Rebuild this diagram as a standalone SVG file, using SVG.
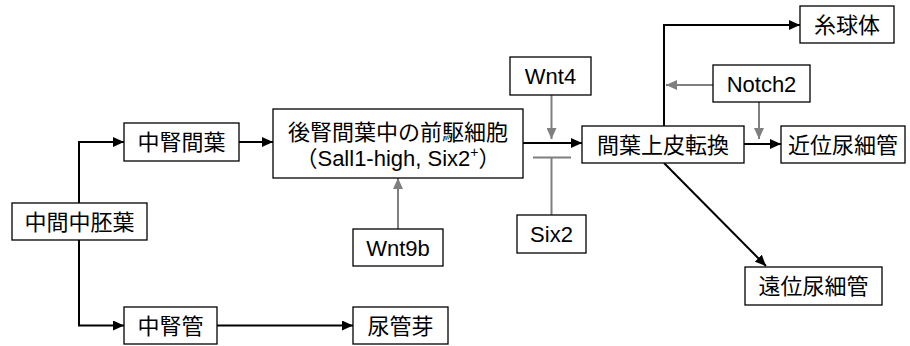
<svg xmlns="http://www.w3.org/2000/svg" width="910" height="346" viewBox="0 0 910 346">
<style>
.box{fill:#fff;stroke:#000;stroke-width:1.3}
.t{font-family:"Liberation Sans","Noto Sans CJK JP",sans-serif;font-size:22px;fill:#000;text-anchor:middle}
.blk{fill:none;stroke:#000;stroke-width:2}
.gry{fill:none;stroke:#7f7f7f;stroke-width:2}
</style>
<defs>
<marker id="ab" markerUnits="userSpaceOnUse" markerWidth="12" markerHeight="10" refX="11" refY="5" orient="auto">
<path d="M0,0 L11,5 L0,10 Z" fill="#000"/>
</marker>
<marker id="ag" markerUnits="userSpaceOnUse" markerWidth="12" markerHeight="10" refX="11" refY="5" orient="auto">
<path d="M0,0 L11,5 L0,10 Z" fill="#7f7f7f"/>
</marker>
</defs>
<g id="connectors">
<path class="blk" d="M79,203 V142 H124" marker-end="url(#ab)"/>
<path class="blk" d="M79,240 V325.5 H124" marker-end="url(#ab)"/>
<path class="blk" d="M239,142 H273" marker-end="url(#ab)"/>
<path class="blk" d="M523,143 H582" marker-end="url(#ab)"/>
<path class="blk" d="M217,325.5 H353" marker-end="url(#ab)"/>
<path class="blk" d="M744,144 H781" marker-end="url(#ab)"/>
<path class="blk" d="M664,126 V25 H800" marker-end="url(#ab)"/>
<path class="blk" d="M664,163 L766,266" marker-end="url(#ab)"/>
<path class="gry" d="M551.5,95 V139" marker-end="url(#ag)"/>
<path class="gry" d="M551.5,215 V157.5"/>
<path class="gry" d="M533,157.5 H571"/>
<path class="gry" d="M398,229 V178" marker-end="url(#ag)"/>
<path class="gry" d="M759,102 V139" marker-end="url(#ag)"/>
<path class="gry" d="M713,85 H666" marker-end="url(#ag)"/>
</g>
<g id="n1"><rect class="box" x="12" y="203" width="135" height="37"/><text class="t" x="79.5" y="229.5">中間中胚葉</text></g>
<g id="n2"><rect class="box" x="124" y="123" width="115" height="38"/><text class="t" x="181.5" y="150">中腎間葉</text></g>
<g id="n3"><rect class="box" x="273" y="109" width="250" height="69"/><text class="t" x="398" y="140">後腎間葉中の前駆細胞</text><text class="t" x="398" y="166">（Sall1-high, Six2<tspan font-size="14" dy="-9">+</tspan><tspan dy="9">）</tspan></text></g>
<g id="n4"><rect class="box" x="353" y="229" width="90" height="37"/><text class="t" x="398" y="255.5">Wnt9b</text></g>
<g id="n5"><rect class="box" x="517" y="215" width="69" height="38"/><text class="t" x="551.5" y="242">Six2</text></g>
<g id="n6"><rect class="box" x="510" y="57" width="81" height="38"/><text class="t" x="550.5" y="84">Wnt4</text></g>
<g id="n7"><rect class="box" x="582" y="126" width="162" height="37"/><text class="t" x="663" y="152.5">間葉上皮転換</text></g>
<g id="n8"><rect class="box" x="781" y="126" width="124" height="37"/><text class="t" x="843" y="152.5">近位尿細管</text></g>
<g id="n9"><rect class="box" x="800" y="6" width="94" height="37"/><text class="t" x="847" y="32.5">糸球体</text></g>
<g id="n10"><rect class="box" x="713" y="65" width="97" height="37"/><text class="t" x="761.5" y="91.5">Notch2</text></g>
<g id="n11"><rect class="box" x="745" y="267" width="137" height="38"/><text class="t" x="813.5" y="294">遠位尿細管</text></g>
<g id="n12"><rect class="box" x="124" y="307" width="93" height="37"/><text class="t" x="170.5" y="333.5">中腎管</text></g>
<g id="n13"><rect class="box" x="353" y="307" width="95" height="37"/><text class="t" x="400.5" y="333.5">尿管芽</text></g>
</svg>
